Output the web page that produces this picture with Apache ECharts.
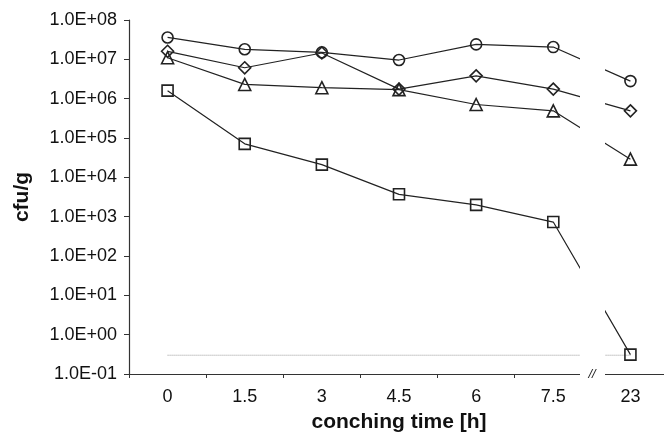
<!DOCTYPE html>
<html>
<head>
<meta charset="utf-8">
<script src="https://cdn.jsdelivr.net/npm/echarts@6/dist/echarts.min.js"></script>
<style>
  html, body { margin: 0; padding: 0; background: #fff; }
  #chart { width: 664px; height: 434px; }
</style>
</head>
<body>
<div id="chart"></div>
<script>
// conching time categories (last one after the axis break)
const times = ["0", "1.5", "3", "4.5", "6", "7.5", "23"];

// cfu/g per series
const circleVals = [3.6e7, 1.8e7, 1.5e7, 9.6e6, 2.4e7, 2.05e7, 2.8e6];
const diamondVals = [1.6e7, 6.1e6, 1.45e7, 1.75e6, 3.8e6, 1.75e6, 4.9e5];
const triangleVals = [1.1e7, 2.3e6, 1.9e6, 1.7e6, 7.1e5, 4.9e5, 2.9e4];
const squareVals = [1.6e6, 7.1e4, 2.1e4, 3.7e3, 2.0e3, 7.3e2, 0.31];

// detection limit drawn as the grey dotted line
const limitVals = [0.3, 0.3, 0.3, 0.3, 0.3, 0.3, 0.3];

const FONT = "Liberation Sans, Arial, sans-serif";
const INK = "#222";

const myChart = echarts.init(document.getElementById("chart"));

const markerSeries = (name, data, symbol, size) => ({
  name: name,
  type: "line",
  data: data,
  symbol: symbol,
  symbolSize: size,
  showAllSymbol: true,
  z: 3,
  lineStyle: { color: INK, width: 1.2 },
  itemStyle: { color: "rgba(0,0,0,0)", borderColor: INK, borderWidth: 1.6 },
});

myChart.setOption({
  animation: false,
  grid: {
    left: 129,
    top: 20,
    width: 540,
    height: 354,
    containLabel: false,
    outerBoundsMode: "none",
  },
  xAxis: {
    type: "category",
    data: times,
    boundaryGap: true,
    name: "conching time [h]",
    nameLocation: "middle",
    nameGap: 38,
    nameTextStyle: { fontFamily: FONT, fontSize: 21, fontWeight: "bold", color: "#111" },
    axisLine: { lineStyle: { color: "#333", width: 1.2 } },
    axisTick: { show: true, inside: false, length: 4, lineStyle: { color: "#333" } },
    axisLabel: { fontFamily: FONT, fontSize: 18, color: "#111", margin: 14 },
    splitLine: { show: false },
  },
  yAxis: {
    type: "log",
    logBase: 10,
    min: 0.1,
    max: 1e8,
    name: "cfu/g",
    nameLocation: "middle",
    nameGap: 96,
    nameTextStyle: { fontFamily: FONT, fontSize: 21, fontWeight: "bold", color: "#111" },
    axisLine: { show: true, lineStyle: { color: "#333", width: 1.2 } },
    axisTick: { show: true, inside: false, length: 5, lineStyle: { color: "#333" } },
    axisLabel: {
      fontFamily: FONT,
      fontSize: 18,
      color: "#111",
      margin: 12,
      formatter: function (v) {
        const e = Math.round(Math.log10(v));
        const sign = e < 0 ? "-" : "+";
        const abs = Math.abs(e);
        return "1.0E" + sign + (abs < 10 ? "0" + abs : abs);
      },
    },
    splitLine: { show: false },
  },
  series: [
    {
      name: "limit",
      type: "line",
      data: limitVals,
      symbol: "none",
      z: 1,
      lineStyle: { color: "#999", width: 1, type: "dotted" },
    },
    markerSeries("circle", circleVals, "circle", 11),
    markerSeries("diamond", diamondVals, "diamond", 12),
    markerSeries("triangle", triangleVals, "triangle", 12),
    markerSeries("square", squareVals, "rect", 11),
  ],
  // axis break between 7.5 and 23
  graphic: [
    {
      type: "rect",
      shape: { x: 580, y: 0, width: 25, height: 378 },
      style: { fill: "#fff" },
      z: 100,
    },
    {
      type: "text",
      x: 592,
      y: 374,
      z: 101,
      style: {
        text: "//",
        fontFamily: FONT,
        fontSize: 13,
        fontStyle: "italic",
        fill: "#222",
        align: "center",
        verticalAlign: "middle",
      },
    },
  ],
});
</script>
</body>
</html>
